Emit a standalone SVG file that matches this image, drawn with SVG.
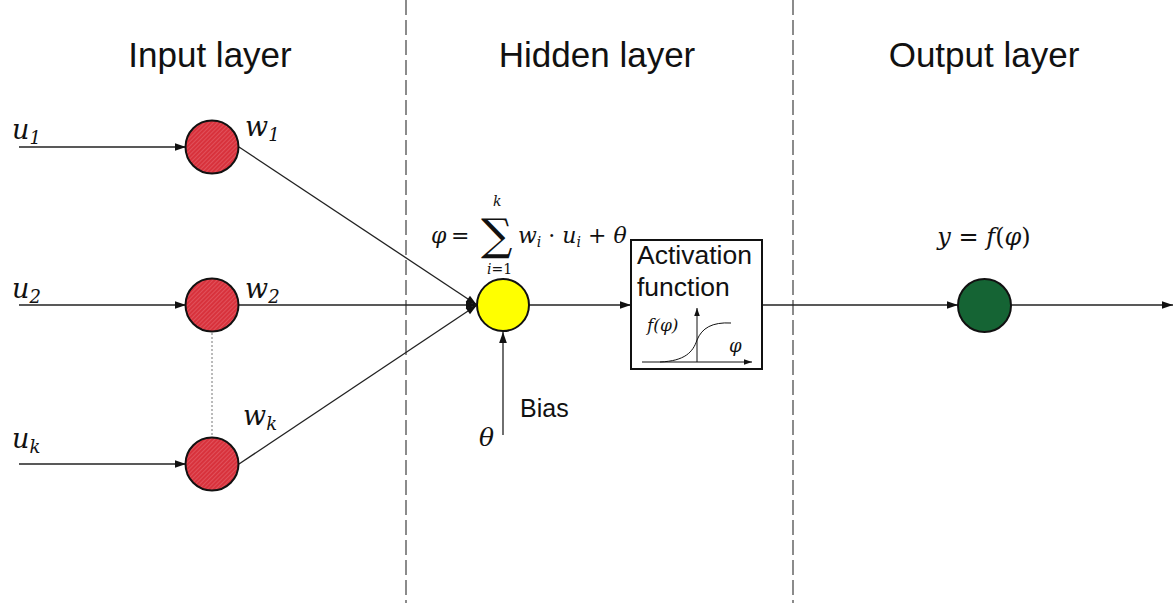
<svg xmlns="http://www.w3.org/2000/svg" width="1173" height="603" viewBox="0 0 1173 603">
<style>
.title{font-family:"Liberation Sans",Arial,sans-serif;font-size:35px;fill:#111;text-anchor:middle}
.sans{font-family:"Liberation Sans",Arial,sans-serif;fill:#111}
.math{font-family:"DejaVu Serif","Liberation Serif",serif;font-style:italic;fill:#111}
.mathr{font-family:"DejaVu Serif","Liberation Serif",serif;fill:#111}
.conn{stroke:#222;stroke-width:1.3;fill:none}
.divider{stroke:#666;stroke-width:1.5;stroke-dasharray:15 5;fill:none}
.node{stroke:#111;stroke-width:2}
</style>
<defs>
<marker id="arr" viewBox="0 0 10 10" refX="10" refY="5" markerWidth="13" markerHeight="11" markerUnits="userSpaceOnUse" orient="auto">
<path d="M0,1.5 L10,5 L0,8.5 Z" fill="#111"/>
</marker>
<marker id="arrs" viewBox="0 0 10 10" refX="10" refY="5" markerWidth="8" markerHeight="8" markerUnits="userSpaceOnUse" orient="auto">
<path d="M0,1.5 L10,5 L0,8.5 Z" fill="#111"/>
</marker>
<pattern id="hatch" patternUnits="userSpaceOnUse" width="3" height="3" patternTransform="rotate(45)">
<rect width="3" height="3" fill="#d8323c"/>
<line x1="0" y1="0" x2="0" y2="3" stroke="#e8707a" stroke-width="1"/>
</pattern>
</defs>

<g id="dividers">
<line class="divider" x1="406" y1="0" x2="406" y2="603"/>
<line class="divider" x1="793" y1="0" x2="793" y2="603"/>
</g>

<g id="titles">
<text class="title" x="210" y="67">Input layer</text>
<text class="title" x="597" y="67">Hidden layer</text>
<text class="title" x="984" y="67">Output layer</text>
</g>

<g id="connectors">
<line class="conn" x1="19" y1="147" x2="186" y2="147" marker-end="url(#arr)"/>
<line class="conn" x1="19" y1="305" x2="186" y2="305" marker-end="url(#arr)"/>
<line class="conn" x1="19" y1="464" x2="186" y2="464" marker-end="url(#arr)"/>
<line x1="212" y1="333" x2="212" y2="438" stroke="#777" stroke-width="1" stroke-dasharray="2 2"/>
<line class="conn" x1="239" y1="147" x2="477" y2="305" marker-end="url(#arr)"/>
<line class="conn" x1="239" y1="305" x2="477" y2="305" marker-end="url(#arr)"/>
<line class="conn" x1="239" y1="464" x2="477" y2="305" marker-end="url(#arr)"/>
<line class="conn" x1="503" y1="435" x2="503" y2="332" marker-end="url(#arr)"/>
<line class="conn" x1="529" y1="305" x2="631" y2="305" marker-end="url(#arr)"/>
<line class="conn" x1="762" y1="305" x2="958" y2="305" marker-end="url(#arr)"/>
<line class="conn" x1="1011" y1="305" x2="1173" y2="305" marker-end="url(#arr)"/>
</g>

<g id="input-u1">
<circle class="node" cx="212" cy="147" r="26.5" fill="url(#hatch)"/>
<text class="math" x="12" y="139" font-size="27">u<tspan font-size="18" dy="5">1</tspan></text>
<text class="math" x="245" y="136" font-size="27">w<tspan font-size="18" dy="5">1</tspan></text>
</g>
<g id="input-u2">
<circle class="node" cx="212" cy="305" r="26.5" fill="url(#hatch)"/>
<text class="math" x="12" y="298" font-size="27">u<tspan font-size="18" dy="5">2</tspan></text>
<text class="math" x="245" y="298" font-size="27">w<tspan font-size="18" dy="5">2</tspan></text>
</g>
<g id="input-uk">
<circle class="node" cx="212" cy="464" r="26.5" fill="url(#hatch)"/>
<text class="math" x="12" y="448" font-size="27">u<tspan font-size="18" dy="5">k</tspan></text>
<text class="math" x="243" y="425" font-size="27">w<tspan font-size="18" dy="5">k</tspan></text>
</g>

<g id="hidden">
<circle class="node" cx="503" cy="305" r="26" fill="#ffff00"/>
<text class="math" x="431" y="243" font-size="22">φ</text>
<text class="mathr" x="451" y="243" font-size="22">=</text>
<text class="mathr" x="481" y="250" font-size="44">∑</text>
<text class="math" x="493" y="206" font-size="14">k</text>
<text class="math" x="487" y="274" font-size="14">i<tspan font-style="normal">=1</tspan></text>
<text class="math" x="518" y="243" font-size="22">w<tspan font-size="14" dy="4">i</tspan><tspan dy="-4" font-style="normal"> · </tspan>u<tspan font-size="14" dy="4">i</tspan><tspan dy="-4" font-style="normal"> + </tspan>θ</text>
</g>

<g id="bias">
<text class="sans" x="520" y="417" font-size="25">Bias</text>
<text class="math" x="479" y="446" font-size="25">θ</text>
</g>

<g id="activation">
<rect x="631" y="240" width="131" height="129" fill="#fff" stroke="#111" stroke-width="2"/>
<text class="sans" x="637" y="264" font-size="26.5">Activation</text>
<text class="sans" x="637" y="296" font-size="26.5">function</text>
<line x1="642" y1="362" x2="752" y2="362" stroke="#111" stroke-width="1" marker-end="url(#arrs)"/>
<line x1="697" y1="362" x2="697" y2="308" stroke="#111" stroke-width="1" marker-end="url(#arrs)"/>
<path d="M660,362 C685,361 693,352 697,340 C702,328 712,322 731,323" stroke="#111" stroke-width="1" fill="none"/>
<text class="math" x="647" y="331" font-size="17">f(φ)</text>
<text class="math" x="729" y="352" font-size="18">φ</text>
</g>

<g id="output">
<circle class="node" cx="984.5" cy="305.5" r="26.5" fill="#156434"/>
<text class="math" x="984" y="245" font-size="24" text-anchor="middle">y <tspan font-style="normal">=</tspan> f<tspan font-style="normal">(</tspan>φ<tspan font-style="normal">)</tspan></text>
</g>
</svg>
